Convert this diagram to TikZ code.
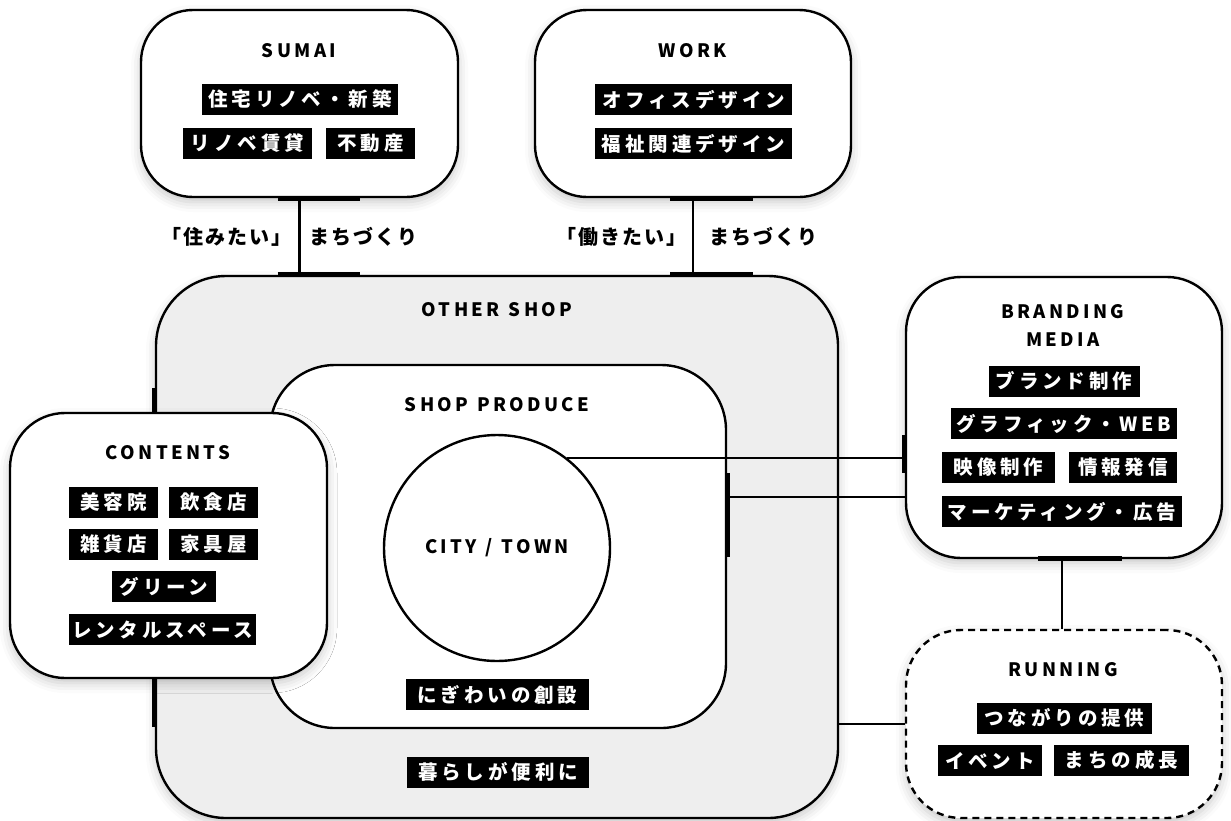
\documentclass[tikz,border=0pt]{standalone}
\usepackage{fontspec}
\setmainfont{Noto Sans CJK JP}
\newfontfamily\headfont{Noto Sans CJK JP}[LetterSpace=18]
\newfontfamily\tagfont{Noto Sans CJK JP}[LetterSpace=20]
\newfontfamily\labfont{Noto Sans CJK JP}[LetterSpace=10]
\usetikzlibrary{shadows.blur}
\definecolor{shopgray}{HTML}{EEEEEE}
\newcommand{\wsp}{\makebox[9pt]{}}
\tikzset{
  softshadow/.style={blur shadow={shadow xshift=0pt, shadow yshift=-5pt, shadow blur radius=10pt, shadow opacity=22}},
  plainframe/.style={draw=black, line width=2.4pt, fill=white, rounded corners=#1},
  frame/.style={plainframe=#1, softshadow},
  head/.style={font=\headfont\bfseries\fontsize{18.5}{21}\selectfont, inner sep=0pt, align=center},
  tag/.style={fill=black, text=white, font=\tagfont\bfseries\fontsize{19.5}{21}\selectfont, minimum height=31pt, minimum width=#1, inner xsep=2pt, inner ysep=0pt},
  lab/.style={font=\labfont\bfseries\fontsize{20}{22}\selectfont, inner sep=0pt},
  conn/.style={draw=black, line width=2.4pt},
  joint/.style={draw=black, line width=5pt},
}
\begin{document}
\begin{tikzpicture}[x=1pt, y=-1pt]
\useasboundingbox (0,0) rectangle (1231,820);

% big boxes
\node[frame=70, fill=shopgray, minimum width=682pt, minimum height=542pt] (other) at (497,547) {};
\node[plainframe=65, minimum width=456pt, minimum height=363pt] (produce) at (498,546.5) {};
\node[draw=black, line width=2.4pt, fill=white, circle, minimum size=226pt] (city) at (497,548) {};

% connectors
\draw[conn] (city.52.8) -- (city.52.8 -| 906,0);
\draw[conn] ([yshift=49.5pt]produce.east) -- ([yshift=49.5pt]produce.east -| 906,0);

% top boxes
\node[frame=52, minimum width=317pt, minimum height=187pt] (sumai) at (299.5,103.5) {};
\node[frame=52, minimum width=316pt, minimum height=187pt] (work) at (693,103.5) {};
\draw[conn] (sumai.south) -- (sumai.south |- other.north);
\draw[conn] (work.south) -- (work.south |- other.north);
\draw[joint] ([xshift=-22pt]sumai.south) -- ([xshift=60pt]sumai.south);
\draw[joint] ([xshift=-22pt]sumai.south |- other.north) -- ([xshift=60pt]sumai.south |- other.north);
\draw[joint] ([xshift=-23pt]work.south) -- ([xshift=60pt]work.south);
\draw[joint] ([xshift=-23pt]work.south |- other.north) -- ([xshift=60pt]work.south |- other.north);

% right boxes
\node[frame=55, minimum width=316pt, minimum height=281pt] (brand) at (1064,417.5) {};
\node[frame=55, dash pattern=on 7pt off 5pt, minimum width=316pt, minimum height=188pt] (run) at (1064,724) {};
\draw[conn] (brand.south -| 1062,0) -- (run.north -| 1062,0);
\draw[conn] (run.west -| other.east) -- (run.west);
\draw[joint] (1038,558) -- (1122,558);
\draw[joint] (brand.west |- 0,435) -- (brand.west |- 0,473);
\draw[joint] (produce.east |- 0,473) -- (produce.east |- 0,557);

% contents
\node[frame=55, minimum width=317pt, minimum height=265pt] (contents) at (168.5,545.5) {};
\draw[joint] (other.west |- 0,388) -- (other.west |- 0,413);
\draw[joint] (other.west |- 0,678) -- (other.west |- 0,727);

% texts: SUMAI
\node[head] (tsumai) at (299,51) {SUMAI};
\node[tag=196pt] (s1) at (300,99) {住宅リノベ・新築};
\node[tag=129pt] (s2) at (247.5,143.5) {リノベ賃貸};
\node[tag=89pt] (s3) at (370.5,143.5) {不動産};
\node[lab] (l1) at (226,237) {「住みたい」};
\node[lab] (l2) at (363,237) {まちづくり};

% WORK
\node[head] (twork) at (693,51) {WORK};
\node[tag=197pt] (w1) at (693.5,99.5) {オフィスデザイン};
\node[tag=197pt] (w2) at (693.5,143.5) {福祉関連デザイン};
\node[lab] (l3) at (621,237) {「働きたい」};
\node[lab] (l4) at (763,237) {まちづくり};

% shop
\node[head] (tother) at (497,310) {OTHER\wsp{}SHOP};
\node[head] (tproduce) at (497,405) {SHOP\wsp{}PRODUCE};
\node[head] (tcity) at (497,548) {CITY\wsp{}/\wsp{}TOWN};
\node[tag=183pt] (p1) at (497.5,694.5) {にぎわいの創設};
\node[tag=182pt] (o1) at (498,772) {暮らしが便利に};

% contents texts
\node[head] (tcontents) at (168,453) {CONTENTS};
\node[tag=89pt] (c1) at (113.5,502.5) {美容院};
\node[tag=89pt] (c2) at (213.5,502.5) {飲食店};
\node[tag=89pt] (c3) at (113.5,544.5) {雑貨店};
\node[tag=89pt] (c4) at (213.5,544.5) {家具屋};
\node[tag=104pt] (c5) at (164,586.5) {グリーン};
\node[tag=187pt] (c6) at (162.5,629.5) {レンタルスペース};

% branding texts
\node[head] (tbrand) at (1063,325) {BRANDING\\[7pt]MEDIA};
\node[tag=151pt] (b1) at (1064,381) {ブランド制作};
\node[tag=226pt] (b2) at (1064,423.5) {グラフィック・WEB};
\node[tag=113pt] (b3) at (998.5,467) {映像制作};
\node[tag=108pt] (b4) at (1123,467) {情報発信};
\node[tag=240pt] (b5) at (1062,511.5) {マーケティング・広告};

% running texts
\node[head] (trun) at (1063,670) {RUNNING};
\node[tag=175pt] (r1) at (1064.5,718) {つながりの提供};
\node[tag=104pt] (r2) at (990,760.5) {イベント};
\node[tag=135pt] (r3) at (1121.5,760.5) {まちの成長};
\end{tikzpicture}
\end{document}
